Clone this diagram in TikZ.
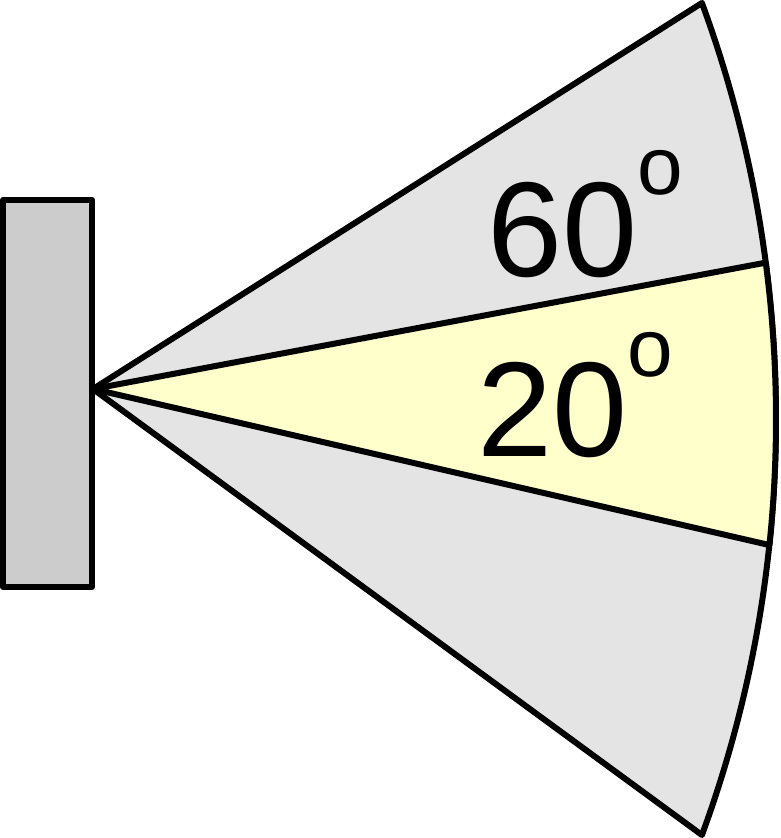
\documentclass[tikz,border=0pt]{standalone}
\usepackage{fontspec}
\setmainfont{Liberation Sans}
\definecolor{wedgegray}{RGB}{228,228,228}
\definecolor{mountgray}{RGB}{204,204,204}
\definecolor{beamyellow}{RGB}{255,255,204}
\newcommand{\degsign}[1]{\raisebox{#1}{\fontsize{82}{82}\selectfont o}}
\tikzset{
  angletext/.style={anchor=base west,inner sep=0pt,font=\fontsize{135}{135}\selectfont},
  outline/.style={draw=black,line width=6pt,line join=round}
}
\begin{document}
\begin{tikzpicture}[x=1pt,y=1pt]
    \useasboundingbox (0,0) rectangle (780,838);
    \coordinate (apex) at (93,449);
    \coordinate (ctr) at (-430,419);
    % wide cone
    \draw[outline,fill=wedgegray] (apex) -- ([shift={(ctr)}]20.18:1206pt)
      arc[start angle=20.18,end angle=-20.18,radius=1206pt] -- cycle;
    % narrow cone
    \draw[outline,fill=beamyellow] (apex) -- ([shift={(ctr)}]7.45:1206pt)
      arc[start angle=7.45,end angle=-6,radius=1206pt] -- cycle;
    % mount
    \draw[outline,fill=mountgray] (3,251) rectangle (92,638);
    \node[angletext] (sixty) at (487,561) {60\degsign{82pt}};
    \node[angletext] (twenty) at (477,381) {20\degsign{80pt}};
\end{tikzpicture}
\end{document}
